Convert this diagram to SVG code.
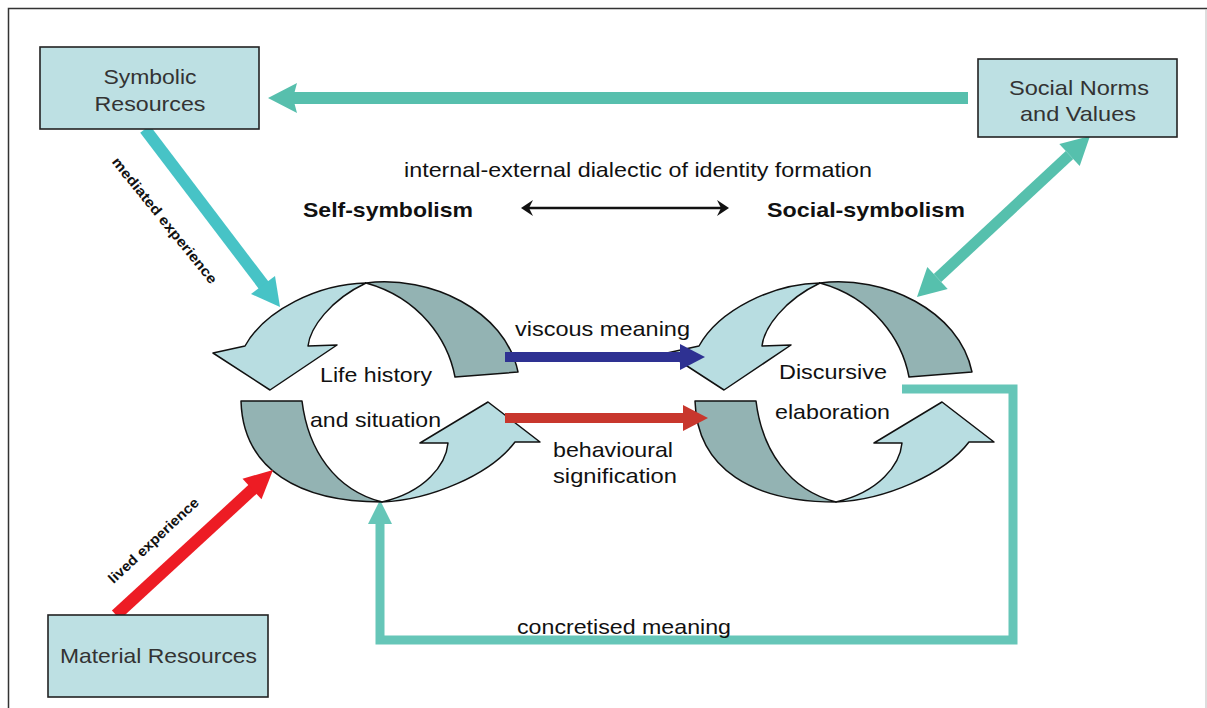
<svg xmlns="http://www.w3.org/2000/svg" width="1207" height="708" viewBox="0 0 1207 708">
<style>
  text { font-family: "Liberation Sans", Arial, sans-serif; fill: #111; }
  .t20 { font-size: 21px; }
  .mid { text-anchor: middle; }
  .bold { font-weight: bold; }
  .box { fill: #bde0e3; stroke: #222; stroke-width: 1.6; }
  .boxtxt { font-size: 21px; text-anchor: middle; fill: #333; }
  .light { fill: #b8dde1; stroke: #111; stroke-width: 1.5; stroke-linejoin: round; }
  .dark { fill: #93b3b3; stroke: #111; stroke-width: 1.5; stroke-linejoin: round; }
  .small { font-size: 14px; font-weight: bold; text-anchor: middle; }
</style>
<defs>
  <g id="cycleShape">
    <path class="light" d="M366,283 C318,284 265,310 245,346 L213,353 L270,390 L337,345 L308,346 C310,328 330,300 366,283 Z"/>
    <path class="dark" d="M366,283 C430,275 505,310 518,372 L455,377 C448,340 420,298 366,283 Z"/>
    <path class="dark" d="M241,401 L302,401 C308,450 335,490 382,502 C300,502 243,470 241,401 Z"/>
    <path class="light" d="M382,502 C430,500 490,475 515,442 L540,442 L488,402 L420,443 L448,443 C446,465 425,492 382,502 Z"/>
  </g>
</defs>
<rect width="1207" height="708" fill="#ffffff"/>
<g id="frame" fill="none" stroke="#333" stroke-width="1.5">
  <path d="M8.5,708 L8.5,8.5 L1207,8.5"/>
  <path d="M1206,9 L1206,708" stroke="#bbb" stroke-width="1"/>
</g>

<g id="connectors-under">
  <path d="M902,389 L1013,389 L1013,640 L380,640 L380,520" fill="none" stroke="#66c6b8" stroke-width="9"/>
  <polygon points="380,500 368,524 392,524" fill="#66c6b8"/>
</g>

<g id="cycle-left"><use href="#cycleShape"/></g>
<g id="cycle-right"><use href="#cycleShape" transform="translate(454,0)"/></g>

<g id="connectors">
  <line x1="968" y1="98" x2="292" y2="98" stroke="#57bfad" stroke-width="12"/>
  <polygon points="268,98 297,83 293,98 297,113" fill="#57bfad"/>
  <line x1="145" y1="129" x2="265" y2="287" stroke="#47c3c6" stroke-width="12"/>
  <polygon points="280,307 275,276 251,294" fill="#47c3c6"/>
  <line x1="116" y1="615" x2="254" y2="488" stroke="#ed1c24" stroke-width="12"/>
  <polygon points="273,470 261.5,499.3 242.5,478.7" fill="#ed1c24"/>
  <line x1="1069.5" y1="155" x2="937.5" y2="278" stroke="#56c0ad" stroke-width="11"/>
  <polygon points="917,297 947.7,288.9 927.3,266.9" fill="#56c0ad"/>
  <polygon points="1090,136 1079.7,166.1 1059.3,144.1" fill="#56c0ad"/>
  <line x1="505" y1="357" x2="684" y2="357" stroke="#2e3192" stroke-width="10"/>
  <polygon points="705,357 680,344 680,370" fill="#2e3192"/>
  <line x1="505" y1="418" x2="687" y2="418" stroke="#c8372d" stroke-width="10"/>
  <polygon points="708,418 683,405 683,431" fill="#c8372d"/>
  <line x1="528" y1="208" x2="722" y2="208" stroke="#111" stroke-width="2.5"/>
  <polygon points="521,208 533,200 529,208 533,216" fill="#111"/>
  <polygon points="729,208 717,200 721,208 717,216" fill="#111"/>
</g>

<g id="node-symbolic">
  <rect class="box" x="40" y="47" width="219" height="82"/>
  <text class="boxtxt" x="150" y="84" textLength="93" lengthAdjust="spacingAndGlyphs">Symbolic</text>
  <text class="boxtxt" x="150" y="111" textLength="111" lengthAdjust="spacingAndGlyphs">Resources</text>
</g>
<g id="node-social">
  <rect class="box" x="978" y="59" width="199" height="78"/>
  <text class="boxtxt" x="1079" y="95" textLength="140" lengthAdjust="spacingAndGlyphs">Social Norms</text>
  <text class="boxtxt" x="1078" y="121" textLength="116" lengthAdjust="spacingAndGlyphs">and Values</text>
</g>
<g id="node-material">
  <rect class="box" x="48" y="615" width="220" height="82"/>
  <text class="boxtxt" x="158.5" y="663" textLength="197" lengthAdjust="spacingAndGlyphs">Material Resources</text>
</g>

<g id="labels">
  <text class="t20 mid" x="638" y="177" textLength="468" lengthAdjust="spacingAndGlyphs">internal-external dialectic of identity formation</text>
  <text class="t20 mid bold" x="388" y="217" textLength="170" lengthAdjust="spacingAndGlyphs">Self-symbolism</text>
  <text class="t20 mid bold" x="866" y="217" textLength="198" lengthAdjust="spacingAndGlyphs">Social-symbolism</text>
  <text class="t20 mid" x="602.5" y="336" textLength="175" lengthAdjust="spacingAndGlyphs">viscous meaning</text>
  <text class="t20 mid" x="376" y="382" textLength="112" lengthAdjust="spacingAndGlyphs">Life history</text>
  <text class="t20 mid" x="375.5" y="427" textLength="131" lengthAdjust="spacingAndGlyphs">and situation</text>
  <text class="t20" x="553" y="457" textLength="120" lengthAdjust="spacingAndGlyphs">behavioural</text>
  <text class="t20" x="553" y="483" textLength="124" lengthAdjust="spacingAndGlyphs">signification</text>
  <text class="t20 mid" x="833" y="379" textLength="108" lengthAdjust="spacingAndGlyphs">Discursive</text>
  <text class="t20 mid" x="832.5" y="419" textLength="115" lengthAdjust="spacingAndGlyphs">elaboration</text>
  <text class="t20 mid" x="624" y="634" textLength="214" lengthAdjust="spacingAndGlyphs">concretised meaning</text>
  <text class="small" transform="translate(164,221) rotate(51)" x="0" y="4" textLength="158" lengthAdjust="spacingAndGlyphs">mediated experience</text>
  <text class="small" transform="translate(154,541) rotate(-43)" x="0" y="4" textLength="118" lengthAdjust="spacingAndGlyphs">lived experience</text>
</g>
</svg>
